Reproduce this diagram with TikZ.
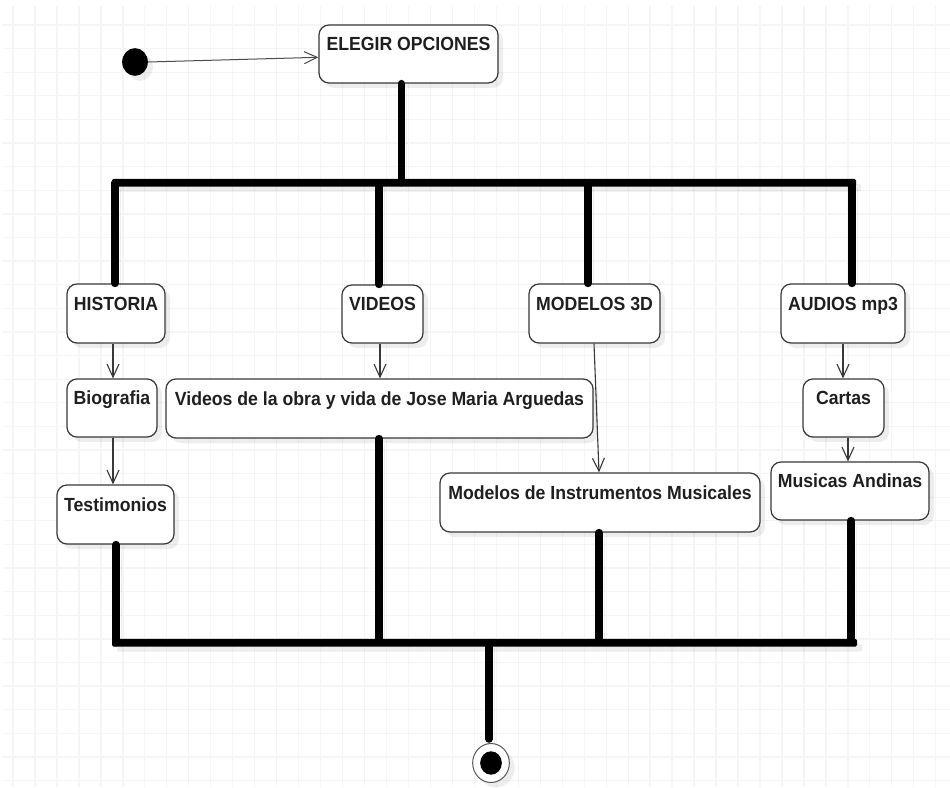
\documentclass[tikz,border=0pt]{standalone}
\usepackage{fontspec}
\newfontfamily\lblfont{Liberation Sans}[FakeStretch=0.93]
\usetikzlibrary{arrows.meta,shapes.geometric,shadows}

\tikzset{
  gridline/.style={draw=black!4, line width=1.3pt},
  softshadow/.style={drop shadow={shadow xshift=5pt, shadow yshift=-5pt, fill=black, opacity=0.07}},
  box/.style={draw=black!78, line width=1.2pt, fill=white, rounded corners=10pt,
    inner sep=0pt, text height=14pt, text depth=21pt,
    font=\lblfont\fontsize{19}{22}\selectfont\bfseries, text=black!88, softshadow},
  flow/.style={draw=black!78, line width=1.1pt, -{Straight Barb[length=13pt,width=12pt]}},
  bar/.style={line width=7.5pt, line cap=round,
    preaction={draw=black, draw opacity=0.06, transform canvas={shift={(5pt,-5pt)}}}},
  barnode/.style={fill=black, inner sep=0pt, minimum height=7.8pt, rounded corners=1.5pt, softshadow},
}

\begin{document}
\begin{tikzpicture}[x=1pt,y=-1pt]
\useasboundingbox (0,0) rectangle (950,787);
\fill[white] (0,0) rectangle (950,787);

% background grid
\begin{scope}
  \clip (3,6) rectangle (950,787);
  \foreach \i in {0,...,42} \draw[gridline] ({13+21.97*\i},6) -- ({13+21.97*\i},787);
  \foreach \j in {0,...,32} \draw[gridline] (3,{25+23.61*\j}) -- (950,{25+23.61*\j});
\end{scope}

% initial state and first activity
\node[ellipse, fill=black, minimum width=25.7pt, minimum height=27.7pt, inner sep=0pt, softshadow] (start) at (135,62) {};
\node[box, minimum width=179pt, minimum height=58pt] (elegir) at (408.5,54) {ELEGIR OPCIONES};
\draw[draw=black!70, line width=1pt, -{Straight Barb[length=13pt,width=12pt]}] (start.east) -- ([yshift=-3.3pt]elegir.west);

% fork and join bars
\node[barnode, minimum width=744pt] (fork) at (484,182.7) {};
\node[barnode, minimum width=745pt] (join) at (484.5,642.7) {};

% branch heads
\node[box, minimum width=98pt, minimum height=59pt] (historia) at (116,313.5) {HISTORIA};
\node[box, minimum width=81pt, minimum height=58pt] (videos) at (382.5,314) {VIDEOS};
\node[box, minimum width=131pt, minimum height=59pt] (modelos) at (594.5,313.5) {MODELOS 3D};
\node[box, minimum width=124pt, minimum height=59pt] (audios) at (843,313.5) {AUDIOS mp3};

% second row
\node[box, minimum width=90pt, minimum height=58pt] (biografia) at (112,408) {Biografia};
\node[box, minimum width=427pt, minimum height=59pt] (videosobra) at (379.5,408.5) {Videos de la obra y vida de Jose Maria Arguedas};
\node[box, minimum width=81pt, minimum height=58pt] (cartas) at (843.5,408) {Cartas};

% third row
\node[box, minimum width=117pt, minimum height=59pt] (testimonios) at (115.5,514.5) {Testimonios};
\node[box, minimum width=320pt, minimum height=59pt] (modelosinst) at (600,502.5) {Modelos de Instrumentos Musicales};
\node[box, minimum width=158pt, minimum height=58pt] (musicas) at (850,491) {Musicas Andinas};

% final state
\node[ellipse, draw=black!65, line width=1pt, fill=white, minimum width=36.7pt, minimum height=39pt, inner sep=0pt, softshadow] (final) at (491,763) {};
\node[ellipse, fill=black, minimum width=21.7pt, minimum height=23.4pt, inner sep=0pt] (finaldot) at (final.center) {};

% attachment points on the bars
\coordinate (e0) at ([xshift=-7pt]elegir.south);
\coordinate (b1) at ([xshift=-1pt]historia.north);
\coordinate (b2) at ([xshift=-3.5pt]videos.north);
\coordinate (b3) at ([xshift=-6.5pt]modelos.north);
\coordinate (b4) at ([xshift=9pt]audios.north);
\coordinate (d1) at ([xshift=0.5pt]testimonios.south);
\coordinate (d2) at ([xshift=-0.5pt]videosobra.south);
\coordinate (d3) at ([xshift=-1pt]modelosinst.south);
\coordinate (d4) at ([xshift=1pt]musicas.south);
\coordinate (f0) at ([xshift=-2pt]final.north);

% fork
\draw[bar] (e0) -- (e0 |- fork.center);
\draw[bar] (b1 |- fork.center) -- (b1);
\draw[bar] (b2 |- fork.center) -- (b2);
\draw[bar] (b3 |- fork.center) -- (b3);
\draw[bar] (b4 |- fork.center) -- (b4);

% join
\draw[bar] (d1) -- (d1 |- join.center);
\draw[bar] (d2) -- (d2 |- join.north);
\draw[bar] (d3) -- (d3 |- join.north);
\draw[bar] (d4) -- (d4 |- join.north);
\draw[bar] (f0 |- join.center) -- ([yshift=4pt]f0);

% sequential flows
\draw[flow] ([xshift=-3pt]historia.south) -- ([xshift=1pt]biografia.north);
\draw[flow] ([xshift=1pt]biografia.south) -- ([xshift=-2.5pt]testimonios.north);
\draw[flow] ([xshift=-2.5pt]videos.south) -- ([xshift=0.5pt]videosobra.north);
\draw[flow] ([xshift=-0.5pt]modelos.south) -- ([xshift=-1pt]modelosinst.north);
\draw[flow] (audios.south) -- ([xshift=-0.5pt]cartas.north);
\draw[flow] ([xshift=4.5pt]cartas.south) -- ([xshift=-2pt]musicas.north);
\end{tikzpicture}
\end{document}
